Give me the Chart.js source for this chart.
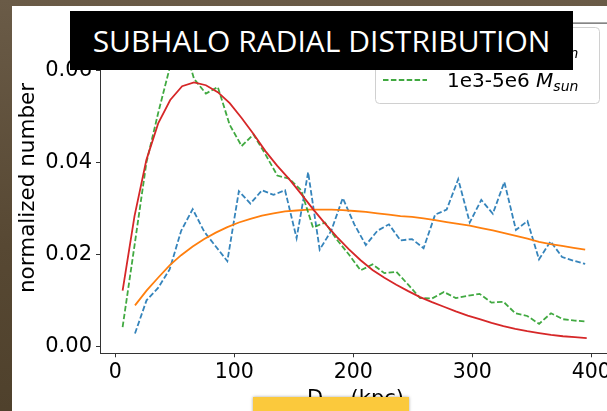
<!DOCTYPE html>
<html>
<head>
<meta charset="utf-8">
<script src="https://cdn.jsdelivr.net/npm/chart.js@4/dist/chart.umd.min.js"></script>
<style>
  html, body { margin: 0; padding: 0; }
  body {
    width: 607px; height: 411px; overflow: hidden; position: relative;
    background: linear-gradient(180deg, #6a5b47 0%, #574833 60%, #4f412c 100%);
  }
  #panel { position: absolute; left: 12px; top: 6px; width: 620px; height: 420px; background: #fff; }
  #plot { position: absolute; left: 12px; top: 6px; }
  #title {
    position: absolute; left: 70px; top: 11px; width: 503px; height: 59px;
    background: #000; color: #fff; font-family: "Open Sans", sans-serif; font-weight: 400;
    font-size: 30px; line-height: 60px; text-align: center; white-space: nowrap;
  }
  #tag {
    position: absolute; left: 253px; top: 397px; width: 156px; height: 30px;
    background: #fbc93c; box-shadow: 0 0 3px rgba(0,0,0,0.35);
  }
</style>
</head>
<body>
<div id="panel"></div>
<canvas id="plot" width="612" height="405"></canvas>
<div id="title">SUBHALO RADIAL DISTRIBUTION</div>
<div id="tag"></div>
<script>
// distance bins (kpc)
const xHeavy = [16.6, 26.3, 36.0, 45.7, 55.4, 65.1, 74.8, 84.5, 94.2, 103.9, 113.6, 123.3, 133.0, 142.7, 152.4, 162.1, 171.8, 181.5, 191.2, 200.9,
  210.6, 220.3, 230.0, 239.7, 249.4, 259.1, 268.8, 278.5, 288.2, 297.9, 307.6, 317.3, 327.0, 336.7, 346.4, 356.1, 365.8, 375.5, 385.2, 394.9];
const xLight = [6.2, 16.2, 26.2, 36.2, 46.2, 56.2, 66.2, 76.2, 86.2, 96.2, 106.2, 116.2, 126.2, 136.2, 146.2, 156.2, 166.2, 176.2, 186.2, 196.2,
  206.2, 216.2, 226.2, 236.2, 246.2, 256.2, 266.2, 276.2, 286.2, 296.2, 306.2, 316.2, 326.2, 336.2, 346.2, 356.2, 366.2, 376.2, 386.2, 396.2];

const heavyHist = [0.0029, 0.0101, 0.0128, 0.0168, 0.0252, 0.0299, 0.0250, 0.0218, 0.0186, 0.0338, 0.0311, 0.0340, 0.0330, 0.0340, 0.0236, 0.0379, 0.0211, 0.0252, 0.0323, 0.0266,
  0.0221, 0.0252, 0.0266, 0.0231, 0.0234, 0.0214, 0.0287, 0.0298, 0.0364, 0.0270, 0.0319, 0.0289, 0.0358, 0.0254, 0.0273, 0.0190, 0.0229, 0.0195, 0.0187, 0.0180];
const heavyFit = [0.0090, 0.0122, 0.0150, 0.0177, 0.0199, 0.0218, 0.0234, 0.0248, 0.0260, 0.0270, 0.0278, 0.0285, 0.0290, 0.0294, 0.0296, 0.0298, 0.0298, 0.0298, 0.0297, 0.0295,
  0.0293, 0.0290, 0.0287, 0.0284, 0.0282, 0.0279, 0.0275, 0.0271, 0.0267, 0.0263, 0.0258, 0.0253, 0.0247, 0.0241, 0.0235, 0.0228, 0.0223, 0.0219, 0.0215, 0.0211];
const lightHist = [0.0043, 0.0220, 0.0400, 0.0509, 0.0610, 0.0670, 0.0582, 0.0550, 0.0564, 0.0482, 0.0436, 0.0461, 0.0418, 0.0372, 0.0365, 0.0340, 0.0259, 0.0270, 0.0233, 0.0201,
  0.0166, 0.0179, 0.0160, 0.0163, 0.0135, 0.0106, 0.0105, 0.0119, 0.0106, 0.0111, 0.0115, 0.0096, 0.0098, 0.0073, 0.0067, 0.0050, 0.0073, 0.0060, 0.0057, 0.0055];
const lightFit = [0.0122, 0.0284, 0.0406, 0.0486, 0.0536, 0.0566, 0.0574, 0.0568, 0.0553, 0.0529, 0.0497, 0.0462, 0.0425, 0.0393, 0.0364, 0.0332, 0.0299, 0.0268, 0.0239, 0.0212,
  0.0188, 0.0167, 0.0150, 0.0135, 0.0121, 0.0108, 0.0097, 0.0087, 0.0077, 0.0068, 0.0060, 0.0052, 0.0045, 0.0039, 0.0034, 0.0030, 0.0026, 0.0023, 0.0021, 0.0019];

const xTicks = [0, 100, 200, 300, 400];
const yTicks = [0, 0.02, 0.04, 0.06];
const legendLabels = ['5e6-1e9', '1e3-5e6'];

const FONT = '"DejaVu Sans", sans-serif';
const pts = (xs, ys) => xs.map((x, i) => ({ x, y: ys[i] }));

// matplotlib-ish frame: top/right spines
const framePlugin = {
  id: 'frame',
  afterDraw(chart) {
    const { ctx, chartArea: a } = chart;
    ctx.save();
    ctx.strokeStyle = '#333';
    ctx.lineWidth = 1;
    ctx.beginPath();
    ctx.moveTo(a.left, a.top + 0.5);
    ctx.lineTo(a.right, a.top + 0.5);
    ctx.lineTo(a.right, a.bottom);
    ctx.stroke();
    ctx.restore();
  }
};

// legend box + x label with subscripts
const extrasPlugin = {
  id: 'extras',
  afterDraw(chart) {
    const { ctx, chartArea: a } = chart;
    ctx.save();

    // legend frame
    const bx = 363, by = 21, bw = 224, bh = 76, r = 4;
    ctx.fillStyle = 'rgba(255,255,255,0.8)';
    ctx.strokeStyle = '#d0d0d0';
    ctx.lineWidth = 1;
    ctx.beginPath();
    ctx.roundRect(bx + 0.5, by + 0.5, bw, bh, r);
    ctx.fill();
    ctx.stroke();

    const entries = [chart.data.datasets[0], chart.data.datasets[2]];
    entries.forEach((ds, i) => {
      const y = 41 + i * 33;
      ctx.strokeStyle = ds.borderColor;
      ctx.lineWidth = ds.borderWidth;
      ctx.setLineDash(ds.borderDash);
      ctx.beginPath();
      ctx.moveTo(371, y);
      ctx.lineTo(415, y);
      ctx.stroke();
      ctx.setLineDash([]);

      ctx.fillStyle = '#000';
      ctx.textBaseline = 'alphabetic';
      ctx.font = '20px ' + FONT;
      let x = 435;
      const base = y + 7;
      const t = legendLabels[i] + ' ';
      ctx.fillText(t, x, base);
      x += ctx.measureText(t).width;
      ctx.font = 'italic 20px ' + FONT;
      ctx.fillText('M', x, base);
      x += ctx.measureText('M').width;
      ctx.font = 'italic 14px ' + FONT;
      ctx.fillText('sun', x, base + 4);
    });

    // x axis label: D_GC (kpc)
    ctx.fillStyle = '#000';
    const d = 'D', rest = ' (kpc)';
    ctx.font = '14px ' + FONT;
    const sw = ctx.measureText('GC').width;
    ctx.font = '21px ' + FONT;
    const total = ctx.measureText(d).width + sw + ctx.measureText(rest).width;
    let x = (a.left + a.right) / 2 - total / 2;
    const base = 399;
    ctx.fillText(d, x, base);
    x += ctx.measureText(d).width;
    ctx.font = '14px ' + FONT;
    ctx.fillText('GC', x, base + 4);
    x += sw;
    ctx.font = '21px ' + FONT;
    ctx.fillText(rest, x, base);

    ctx.restore();
  }
};

new Chart(document.getElementById('plot'), {
  type: 'line',
  data: {
    datasets: [
      { data: pts(xHeavy, heavyHist), borderColor: 'rgba(31,119,180,0.9)', borderWidth: 1.8, borderDash: [5.5, 2.4], order: 4 },
      { data: pts(xHeavy, heavyFit), borderColor: '#ff7f0e', borderWidth: 1.8, borderDash: [], order: 3 },
      { data: pts(xLight, lightHist), borderColor: 'rgba(44,160,44,0.9)', borderWidth: 1.8, borderDash: [5.5, 2.4], order: 2 },
      { data: pts(xLight, lightFit), borderColor: '#d62728', borderWidth: 1.8, borderDash: [], order: 1 }
    ].map(d => Object.assign({ pointRadius: 0, tension: 0, fill: false }, d))
  },
  options: {
    responsive: false,
    animation: false,
    devicePixelRatio: 1,
    layout: { padding: { top: 10, right: 13, left: 0, bottom: 0 } },
    plugins: { legend: { display: false }, tooltip: { enabled: false }, title: { display: false } },
    scales: {
      x: {
        type: 'linear', min: -12.8, max: 416.6,
        afterFit: s => { s.height = 57.7; },
        afterBuildTicks: s => { s.ticks = xTicks.map(v => ({ value: v })); },
        grid: { drawOnChartArea: false, tickLength: 4, color: '#333' },
        border: { display: true, color: '#333', width: 1 },
        ticks: { color: '#000', font: { family: FONT, size: 20.5 }, padding: 3, maxRotation: 0, callback: v => String(v) }
      },
      y: {
        min: -0.0014, max: 0.0704,
        afterFit: s => { s.width = 88; },
        afterBuildTicks: s => { s.ticks = yTicks.map(v => ({ value: v })); },
        grid: { drawOnChartArea: false, tickLength: 4, color: '#333' },
        border: { display: true, color: '#333', width: 1 },
        ticks: { color: '#000', font: { family: FONT, size: 21 }, padding: 4, callback: v => v.toFixed(2) },
        title: { display: true, text: 'normalized number', color: '#000', font: { family: FONT, size: 21.5 }, padding: { top: 4, bottom: 4 } }
      }
    }
  },
  plugins: [framePlugin, extrasPlugin]
});
</script>
</body>
</html>
